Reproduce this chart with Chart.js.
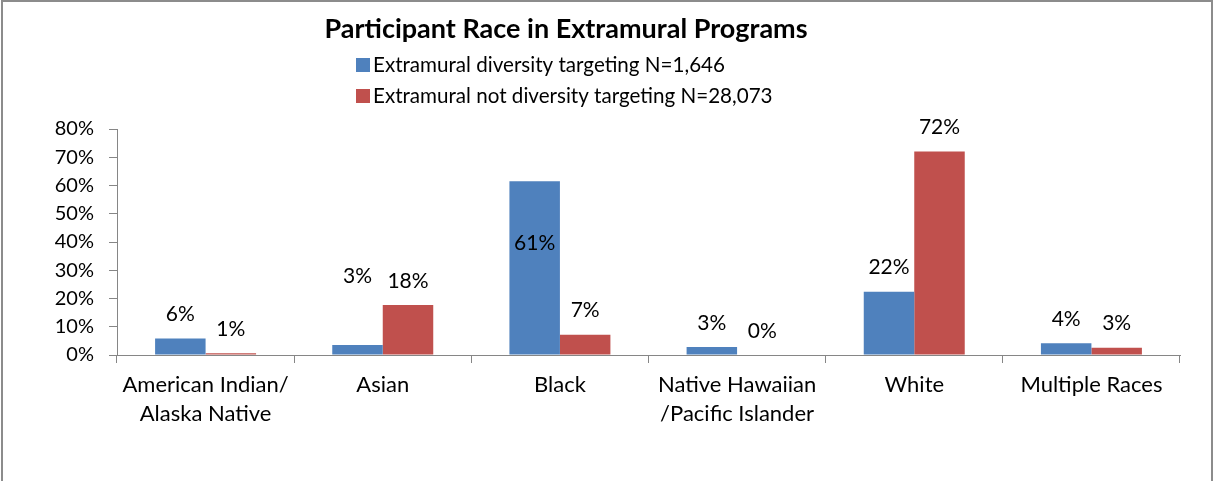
<!DOCTYPE html>
<html>
<head>
<meta charset="utf-8">
<script src="https://cdn.jsdelivr.net/npm/chart.js@4.4.0/dist/chart.umd.min.js"></script>
<style>
  html, body { margin: 0; padding: 0; background: #fff; }
  #wrap { position: relative; width: 1214px; height: 481px; }
  #wrap canvas { position: absolute; left: 0; top: 0; }
  #frame { position: absolute; left: 1px; top: 0; width: 1212px; height: 481px; border: 2px solid #8c8c8c; border-bottom: none; box-sizing: border-box; pointer-events: none; }
</style>
</head>
<body>
<div id="wrap">
  <canvas id="chart" width="1214" height="481"></canvas>
  <div id="frame"></div>
</div>
<script>
const categories = [['American Indian/', 'Alaska Native'], 'Asian', 'Black', ['Native Hawaiian', '/Pacific Islander'], 'White', 'Multiple Races'];
const seriesNames = ['Extramural diversity targeting N=1,646', 'Extramural not diversity targeting N=28,073'];
const targeting = [5.8, 3.5, 61.5, 2.8, 22.4, 4.2];
const notTargeting = [0.6, 17.7, 7.2, 0, 72.0, 2.6];
const targetingLabels = ['6%', '3%', '61%', '3%', '22%', '4%'];
const notTargetingLabels = ['1%', '18%', '7%', '0%', '72%', '3%'];
const yTicks = [0, 10, 20, 30, 40, 50, 60, 70, 80];

const FONT = 'Lato, "Open Sans", sans-serif';
const axisGray = '#868686';

// Excel had a couple of labels dragged by hand
const labelShift = { '0-1': -45, '0-2': 86 };

const titleAndLabels = {
  id: 'titleAndLabels',
  afterDatasetsDraw(chart) {
    const ctx = chart.ctx;
    ctx.save();
    ctx.font = '21px ' + FONT;
    ctx.fillStyle = '#000';
    ctx.textAlign = 'center';
    ctx.textBaseline = 'middle';
    chart.data.datasets.forEach((ds, di) => {
      chart.getDatasetMeta(di).data.forEach((bar, i) => {
        const shift = labelShift[di + '-' + i] || 0;
        ctx.fillText(ds.valueLabels[i], bar.x, bar.y - 24 + shift);
      });
    });
    ctx.restore();
  },
  afterDraw(chart) {
    const ctx = chart.ctx;
    ctx.save();
    ctx.fillStyle = '#000';
    ctx.font = 'bold 27px ' + FONT;
    ctx.textAlign = 'center';
    ctx.textBaseline = 'alphabetic';
    ctx.fillText('Participant Race in Extramural Programs', 566, 38);

    ctx.font = '20.6px ' + FONT;
    ctx.textAlign = 'left';
    ctx.textBaseline = 'middle';
    chart.data.datasets.forEach((ds, di) => {
      const y = 65 + di * 31;
      ctx.fillStyle = ds.backgroundColor;
      ctx.fillRect(356, y - 7, 14, 14);
      ctx.fillStyle = '#000';
      ctx.fillText(ds.label, 373, y);
    });
    ctx.restore();
  }
};

new Chart(document.getElementById('chart'), {
  type: 'bar',
  data: {
    labels: categories,
    datasets: [{
      label: seriesNames[0],
      data: targeting,
      valueLabels: targetingLabels,
      backgroundColor: '#4F81BD',
      categoryPercentage: 0.57,
      barPercentage: 1
    }, {
      label: seriesNames[1],
      data: notTargeting,
      valueLabels: notTargetingLabels,
      backgroundColor: '#C0504D',
      categoryPercentage: 0.57,
      barPercentage: 1
    }]
  },
  options: {
    responsive: false,
    animation: false,
    layout: { padding: { top: 129, right: 34, bottom: 0, left: 0 } },
    plugins: {
      legend: { display: false },
      title: { display: false },
      tooltip: { enabled: false }
    },
    scales: {
      x: {
        afterFit: s => { s.height = 126; },
        grid: { display: true, drawOnChartArea: false, drawTicks: true, tickLength: 8, color: axisGray, offset: true },
        border: { color: axisGray, width: 1 },
        ticks: { color: '#000', font: { family: FONT, size: 22, lineHeight: 1.32 }, padding: 7, maxRotation: 0, autoSkip: false }
      },
      y: {
        min: 0,
        max: 80,
        afterFit: s => { s.width = 117; },
        afterBuildTicks: s => { s.ticks = yTicks.map(v => ({ value: v })); },
        grid: { display: true, drawOnChartArea: false, drawTicks: true, tickLength: 8, color: axisGray },
        border: { color: axisGray, width: 1 },
        ticks: { color: '#000', font: { family: FONT, size: 20 }, padding: 15, callback: v => v + '%' }
      }
    }
  },
  plugins: [titleAndLabels]
});
</script>
</body>
</html>
